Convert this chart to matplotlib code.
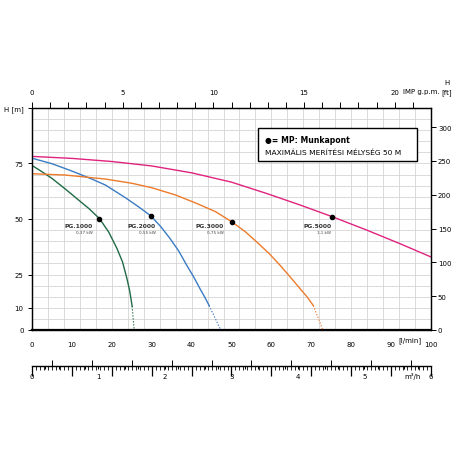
import numpy as np
import matplotlib.pyplot as plt
from matplotlib.patches import Rectangle

plt.rcParams['font.family'] = ['DejaVu Sans']

# pump curves, Q in l/min, H in m (solid part)
pg1000_q = [0, 2.5, 5.0, 8.35, 11.7, 14.2, 16.9, 19.2, 21.3, 22.7, 23.8, 24.5, 25.1]
pg1000_h = [74.1, 71.3, 68.3, 63.5, 58.5, 54.8, 50.2, 44.2, 36.7, 30.6, 23.1, 17.5, 10.7]
pg2000_q = [0, 5.0, 10.0, 15.0, 18.4, 23.4, 26.7, 29.8, 32.3, 34.6, 36.8, 38.8, 40.5, 42.1, 43.3, 44.4]
pg2000_h = [77.4, 74.9, 71.6, 68.0, 65.3, 59.6, 55.5, 51.4, 46.5, 41.2, 35.5, 29.1, 24.0, 18.6, 14.8, 11.0]
pg3000_q = [0, 8.35, 18.4, 25.0, 30.0, 36.0, 41.3, 46.0, 50.1, 53.5, 56.3, 59.4, 62.2, 64.8, 67.2, 69.0, 70.5]
pg3000_h = [70.4, 69.8, 68.0, 66.1, 64.1, 60.8, 57.0, 53.3, 48.7, 44.2, 39.7, 34.5, 29.1, 23.7, 18.6, 14.8, 11.0]
pg5000_q = [0, 10, 20, 30, 40, 50, 58.8, 67.2, 75.3, 83.9, 92.2, 100]
pg5000_h = [78.2, 77.3, 75.9, 73.9, 70.8, 66.6, 61.5, 56.3, 51.0, 45.0, 38.9, 32.9]

# dashed tails down to zero head
tail_q = [[25.1, 25.6], [44.4, 47.3], [70.5, 72.9]]
tail_h = [[10.7, 0], [11.0, 0], [11.0, 0]]

# working points
mp_q = [16.9, 29.8, 50.1, 75.3]
mp_h = [50.2, 51.4, 48.7, 51.0]

names = ["PG.1000", "PG.2000", "PG.3000", "PG.5000"]
powers = ["0,37 kW", "0,55 kW", "0,75 kW", "1,1 kW"]
label_q = [15.2, 31.1, 48.1, 75.0]

colors = ["#1f6b45", "#3a7cc3", "#ec7b2c", "#e0237f"]

fig = plt.figure(figsize=(4.56, 4.56), dpi=100)
ax = fig.add_axes([32 / 456, 1 - 331 / 456, 399 / 456, 222 / 456])

ax.set_xlim(0, 100)
ax.set_ylim(0, 100)

# grid: every 4 l/min and every 5 m
ax.set_xticks(np.arange(0, 101, 10))
ax.set_xticks(np.arange(0, 101, 4), minor=True)
ax.xaxis.remove_overlapping_locs = False
ax.set_yticks([0, 10, 25, 50, 75, 100])
ax.set_yticklabels(["0", "10", "25", "50", "75", "H [m]"])
ax.set_yticks(np.arange(0, 101, 5), minor=True)
ax.yaxis.remove_overlapping_locs = False
ax.grid(which="minor", color="#d4d4d4", linewidth=0.6)
ax.set_axisbelow(True)
ax.tick_params(axis="x", which="both", length=0, labelsize=5, pad=8)
ax.tick_params(axis="y", which="major", length=3, width=0.7, labelsize=5, pad=3)
ax.tick_params(axis="y", which="minor", length=0)
for s in ["left", "right", "top"]:
    ax.spines[s].set_linewidth(0.9)
ax.spines["bottom"].set_linewidth(1.6)

all_q = [pg1000_q, pg2000_q, pg3000_q, pg5000_q]
all_h = [pg1000_h, pg2000_h, pg3000_h, pg5000_h]
for i in range(4):
    ax.plot(all_q[i], all_h[i], color=colors[i], linewidth=1.0, zorder=3)
for i in range(3):
    ax.plot(tail_q[i], tail_h[i], color=colors[i], linewidth=0.8,
            linestyle=(0, (1.2, 1.5)), zorder=3)
ax.scatter(mp_q, mp_h, s=9, color="black", zorder=4)

for i in range(4):
    ax.text(label_q[i], 46.9, names[i], fontsize=4.3, fontweight="bold",
            ha="right", va="center", color="#333333")
    ax.text(label_q[i], 44.0, powers[i], fontsize=3.0, ha="right",
            va="center", color="#444444")

# legend box
ax.add_patch(Rectangle((0.566, 0.761), 0.398, 0.149, transform=ax.transAxes,
                       facecolor="white", edgecolor="black", linewidth=1.0,
                       zorder=5))
ax.text(0.585, 0.857, "\u25cf= MP: Munkapont", transform=ax.transAxes,
        fontsize=5.6, fontweight="bold", va="center", zorder=6,
        family=["Liberation Sans Narrow", "DejaVu Sans"])
ax.text(0.585, 0.805, "MAXIMÁLIS MERÍTÉSI MÉLYSÉG 50 M", transform=ax.transAxes,
        fontsize=5.4, va="center", zorder=6,
        family=["Liberation Sans Narrow", "DejaVu Sans"])

ax.text(0.948, -0.045, "[l/min]", transform=ax.transAxes, fontsize=5,
        ha="center", va="center")

# right axis in feet
ax_r = ax.twinx()
ax_r.set_ylim(0, 100 * 3.2808)
ax_r.set_yticks(np.arange(0, 301, 50))
ax_r.tick_params(axis="y", length=3.5, width=0.7, labelsize=5, pad=1.5)
ax_r.text(1.04, 1.095, "H\n[ft]", transform=ax.transAxes, fontsize=5,
          ha="center", va="center", linespacing=1.5)

# top axis in imperial gallons per minute
ax_t = ax.twiny()
ax_t.set_xlim(0, 100 / 4.546)
ax_t.set_xticks(np.arange(0, 21, 5))
ax_t.set_xticks(np.arange(0, 22, 1), minor=True)
ax_t.tick_params(axis="x", which="both", length=4, width=0.7, labelsize=5,
                 pad=5)
ax_t.text(0.975, 1.077, "IMP g.p.m.", transform=ax.transAxes, fontsize=5,
          ha="center", va="center")

# lower scale: l/min ticks above, m3/h ticks below
ax_s = fig.add_axes([32 / 456, 1 - 367 / 456, 399 / 456, 0.0001])
ax_s.set_xlim(0, 100)
ax_s.set_yticks([])
for s in ["left", "right", "top"]:
    ax_s.spines[s].set_visible(False)
ax_s.spines["bottom"].set_linewidth(1.0)
ax_s.xaxis.set_ticks_position("top")
ax_s.set_xticks(np.arange(0, 101, 10))
ax_s.set_xticks(np.arange(0, 101, 1), minor=True)
ax_s.tick_params(axis="x", which="major", length=7.5, width=0.9,
                 labeltop=False, labelbottom=False)
ax_s.tick_params(axis="x", which="minor", length=3, width=0.6)

ax_m = ax_s.twiny()
ax_m.set_xlim(0, 100)
ax_m.set_xticks(np.arange(5, 100, 10))
ax_m.tick_params(axis="x", length=4.5, width=0.7, labeltop=False)
for s in ax_m.spines.values():
    s.set_visible(False)

ax_q = ax_s.twiny()
ax_q.set_xlim(0, 6)
ax_q.xaxis.set_ticks_position("bottom")
ax_q.set_xticks(np.arange(0, 7, 1))
ax_q.set_xticks(np.arange(0, 6.01, 0.2), minor=True)
ax_q.tick_params(axis="x", which="both", length=2, width=0.7, labelsize=5,
                 pad=3, labelbottom=True, labeltop=False)
for s in ax_q.spines.values():
    s.set_visible(False)
ax.text(0.954, -0.207, "m\u00b3/h", transform=ax.transAxes, fontsize=5,
        ha="center", va="center")

fig.savefig("out.png", dpi=100)
